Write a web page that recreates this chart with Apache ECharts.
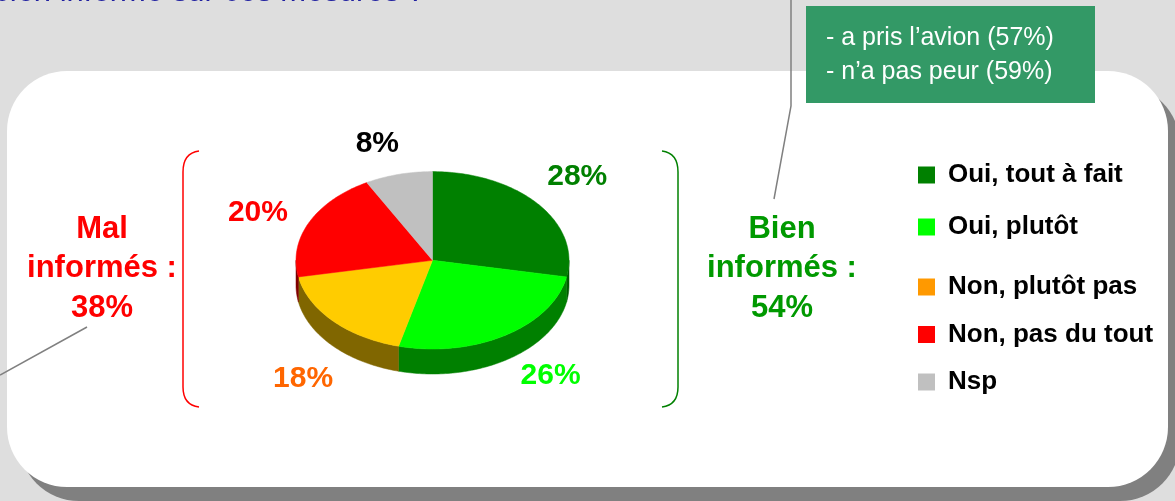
<!DOCTYPE html>
<html>
<head>
<meta charset="utf-8">
<title>Bien informé sur ces mesures ?</title>
<script src="https://cdn.jsdelivr.net/npm/echarts@6/dist/echarts.min.js"></script>
<style>
  html, body { margin: 0; padding: 0; background: #dedede; }
  #chart { width: 1175px; height: 501px; }
</style>
</head>
<body>
<div id="chart"></div>
<script>
// data
const categories = ['Oui, tout à fait', 'Oui, plutôt', 'Non, plutôt pas', 'Non, pas du tout', 'Nsp'];
const values = [28, 26, 18, 20, 8];
const groupLabels = ['Mal\ninformés :\n38%', 'Bien\ninformés :\n54%'];
const noteLines = ['- a pris l’avion (57%)', '- n’a pas peur (59%)'];
const titleText = 'bien informé sur ces mesures ?';

// styles
const sliceColors = ['#008000', '#00ff00', '#ffcc00', '#ff0000', '#c0c0c0'];
const sideColors = ['#005a00', '#008000', '#806600', '#800000', '#606060'];
const legendColors = ['#008000', '#00ff00', '#ff9900', '#ff0000', '#c0c0c0'];
const labelColors = ['#008000', '#00ff00', '#ff6600', '#ff0000', '#000000'];
const labelNudge = [[8, -10], [23, -7], [0, 14], [-14, 2], [-11, -5]];

const PIE = { cx: 432.5, cy: 260.3, rx: 136.5, ry: 88.7, depth: 25 };
const FONT = '"Liberation Sans", Arial, sans-serif';

const total = values.reduce((a, b) => a + b, 0);
const starts = [];
values.reduce((acc, v, i) => { starts[i] = acc; return acc + v; }, 0);

// angle in degrees, clockwise from 12 o'clock, on the tilted ellipse
function rimPoint(deg, k, dy) {
  const t = deg * Math.PI / 180;
  return [PIE.cx + k * PIE.rx * Math.sin(t), PIE.cy - k * PIE.ry * Math.cos(t) + dy];
}

function arcPoints(a0, a1, dy) {
  const pts = [];
  const n = Math.max(2, Math.ceil(a1 - a0));
  for (let k = 0; k <= n; k++) {
    pts.push(rimPoint(a0 + (a1 - a0) * k / n, 1, dy));
  }
  return pts;
}

function renderSlice(params, api) {
  const i = params.seriesIndex;
  const v = api.value(0);
  const a0 = starts[i] / total * 360;
  const a1 = (starts[i] + v) / total * 360;
  const children = [];

  // front wall only shows between 3 and 9 o'clock
  const w0 = Math.max(a0, 90);
  const w1 = Math.min(a1, 270);
  if (w1 > w0) {
    const top = arcPoints(w0, w1, 0);
    const bottom = arcPoints(w0, w1, PIE.depth).reverse();
    children.push({
      type: 'polygon',
      shape: { points: top.concat(bottom) },
      style: { fill: sideColors[i], stroke: sideColors[i], lineWidth: 0.5 }
    });
  }

  children.push({
    type: 'polygon',
    shape: { points: [[PIE.cx, PIE.cy]].concat(arcPoints(a0, a1, 0)) },
    style: { fill: sliceColors[i], stroke: sliceColors[i], lineWidth: 0.5 }
  });

  const mid = (a0 + a1) / 2;
  const front = Math.cos(mid * Math.PI / 180) < 0;
  const p = rimPoint(mid, 1.3, front ? PIE.depth : 0);
  children.push({
    type: 'text',
    x: p[0] + labelNudge[i][0],
    y: p[1] + labelNudge[i][1],
    style: {
      text: v + '%',
      fill: labelColors[i],
      font: 'bold 30px ' + FONT,
      align: 'center',
      verticalAlign: 'middle'
    }
  });

  return { type: 'group', children: children };
}

// curly-ish bracket made of two curves and a straight run
function bracket(x, tipX, color) {
  const line = { stroke: color, lineWidth: 1.5, fill: null };
  return [
    { type: 'bezierCurve', z: 2, shape: { x1: tipX, y1: 151, cpx1: x, cpy1: 153, x2: x, y2: 172 }, style: line },
    { type: 'line', z: 2, shape: { x1: x, y1: 172, x2: x, y2: 387 }, style: line },
    { type: 'bezierCurve', z: 2, shape: { x1: x, y1: 387, cpx1: x, cpy1: 405, x2: tipX, y2: 407 }, style: line }
  ];
}

const chart = echarts.init(document.getElementById('chart'));

const legendText = {
  color: '#000',
  fontFamily: FONT,
  fontWeight: 'bold',
  fontSize: 26,
  lineHeight: 30,
  padding: [5, 0, 0, 8]
};

const option = {
  animation: false,
  backgroundColor: '#dedede',
  legend: [
    {
      orient: 'vertical',
      left: 918,
      top: 157.5,
      padding: 0,
      itemGap: 17,
      itemWidth: 17,
      itemHeight: 17,
      icon: 'rect',
      selectedMode: false,
      textStyle: legendText,
      data: categories.slice(0, 2).map((name, i) => ({ name, itemStyle: { color: legendColors[i] } }))
    },
    {
      orient: 'vertical',
      left: 918,
      top: 269.5,
      padding: 0,
      itemGap: 12.5,
      itemWidth: 17,
      itemHeight: 17,
      icon: 'rect',
      selectedMode: false,
      textStyle: legendText,
      data: categories.slice(2).map((name, i) => ({ name, itemStyle: { color: legendColors[i + 2] } }))
    }
  ],
  graphic: [
    { type: 'rect', z: 0, shape: { x: 19, y: 85, width: 1161, height: 416, r: 60 }, style: { fill: '#808080' } },
    { type: 'rect', z: 1, shape: { x: 7, y: 71, width: 1161, height: 416, r: 60 }, style: { fill: '#ffffff' } },
    {
      type: 'text', z: 1, x: -6, y: 8,
      style: { text: titleText, font: 'italic 31px ' + FONT, fill: '#2020a0', verticalAlign: 'bottom' }
    },
    {
      type: 'polyline', z: 2,
      shape: { points: [[791, 0], [791, 106], [774, 199]] },
      style: { stroke: '#808080', lineWidth: 1.5, fill: null }
    },
    { type: 'line', z: 2, shape: { x1: 0, y1: 375, x2: 87, y2: 327 }, style: { stroke: '#808080', lineWidth: 1.5 } },
    { type: 'rect', z: 3, shape: { x: 806, y: 6, width: 289, height: 97 }, style: { fill: '#339966' } },
    {
      type: 'text', z: 4, x: 826, y: 21,
      style: { text: noteLines.join('\n'), font: '25px ' + FONT, fill: '#ffffff', lineHeight: 34 }
    },
    ...bracket(183, 199, '#ff0000'),
    ...bracket(678, 662, '#008000'),
    {
      type: 'text', z: 2, x: 102, y: 268.5,
      style: {
        text: groupLabels[0], font: 'bold 31px ' + FONT, fill: '#ff0000',
        align: 'center', verticalAlign: 'middle', lineHeight: 39.5
      }
    },
    {
      type: 'text', z: 2, x: 782, y: 268.5,
      style: {
        text: groupLabels[1], font: 'bold 31px ' + FONT, fill: '#009900',
        align: 'center', verticalAlign: 'middle', lineHeight: 39.5
      }
    }
  ],
  series: categories.map((name, i) => ({
    type: 'custom',
    name: name,
    coordinateSystem: 'none',
    z: 5,
    silent: true,
    itemStyle: { color: sliceColors[i] },
    renderItem: renderSlice,
    data: [[values[i]]]
  }))
};

chart.setOption(option);
window.addEventListener('resize', () => chart.resize());
</script>
</body>
</html>
